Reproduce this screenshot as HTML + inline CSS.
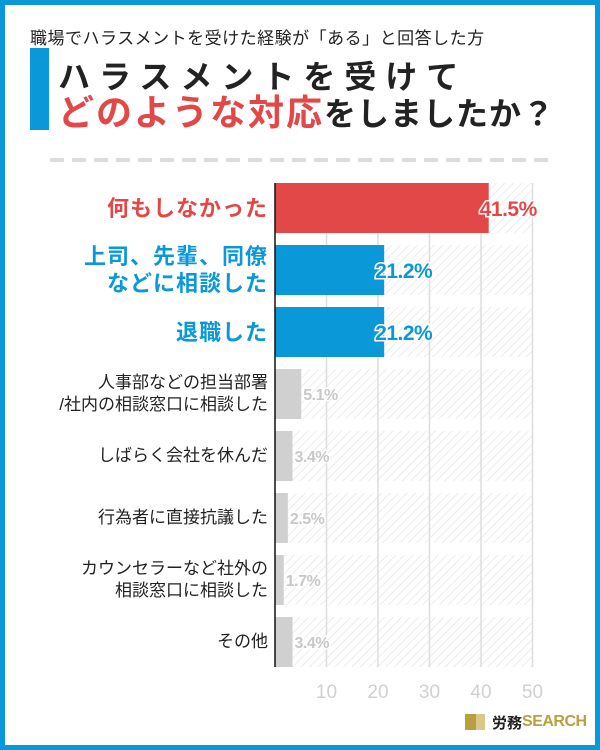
<!DOCTYPE html>
<html><head><meta charset="utf-8"><style>
body{margin:0;width:600px;height:750px;overflow:hidden;background:#fff;font-family:"Liberation Sans","Noto Sans CJK JP",sans-serif}
#frame{position:absolute;left:0;top:0;width:590px;height:740px;border:5px solid #0a98d8;background:#fff}
.lbl{position:absolute;right:332px;text-align:right;font-size:17px;line-height:22px;color:#222;white-space:nowrap}
.lbl.big{font-size:22px;font-weight:bold;line-height:27px;letter-spacing:1px}
</style></head><body>
<div id="frame"></div>
<div style="position:absolute;left:30px;top:24px;font-size:17px;color:#222;letter-spacing:0.5px;white-space:nowrap">職場でハラスメントを受けた経験が「ある」と回答した方</div>
<div style="position:absolute;left:30px;top:48px;width:19px;height:82px;background:#0a98d8"></div>
<div style="position:absolute;left:58px;top:52px;font-size:32px;font-weight:bold;color:#222;letter-spacing:9px;white-space:nowrap">ハラスメントを受けて</div>
<div style="position:absolute;left:58px;top:84px;font-size:36px;font-weight:bold;color:#e34848;letter-spacing:2px;white-space:nowrap">どのような対応<span style="color:#222;font-size:32px;letter-spacing:1px">をしましたか？</span></div>
<div style="position:absolute;left:50px;top:158px;width:502px;height:4px;background:repeating-linear-gradient(90deg,#ddd 0 14px,transparent 14px 22px)"></div>
<svg id="chart" width="600" height="750" style="position:absolute;left:0;top:0">
<defs><pattern id="hatch" width="6" height="6" patternUnits="userSpaceOnUse" patternTransform="rotate(45)"><rect width="6" height="6" fill="#fff"/><line x1="0" y1="0" x2="0" y2="6" stroke="#ececec" stroke-width="2"/></pattern></defs>
<g id="g"></g></svg>
<div id="labels"></div>
<div style="position:absolute;left:465px;top:712px;height:20px;display:flex;align-items:center;white-space:nowrap">
<div style="width:11px;height:16px;background:#b8a040"></div><div style="width:9px;height:16px;background:#d8c88a;margin-right:7px"></div>
<span style="font-size:15px;font-weight:bold;color:#222">労務</span><span style="font-size:16px;color:#b8a040;font-weight:bold;letter-spacing:-0.5px">SEARCH</span></div>
<script>
const categories=["何もしなかった","上司、先輩、同僚<br>などに相談した","退職した","人事部などの担当部署<br>/社内の相談窓口に相談した","しばらく会社を休んだ","行為者に直接抗議した","カウンセラーなど社外の<br>相談窓口に相談した","その他"];
const values=[41.5,21.2,21.2,5.1,3.4,2.5,1.7,3.4];
const ticks=[10,20,30,40,50];
const colors=["#e34848","#0a98d8","#0a98d8","#d0d0d0","#d0d0d0","#d0d0d0","#d0d0d0","#d0d0d0"];
const labelColors=["#e34848","#0a98d8","#0a98d8","#222","#222","#222","#222","#222"];
const x0=275,xs=5.15,top0=183,pitch=62,bh=50;
const X=v=>x0+v*xs, Y=i=>top0+i*pitch;
const g=document.getElementById('g'),ns="http://www.w3.org/2000/svg";
function mk(t,a){const e=document.createElementNS(ns,t);for(const k in a)e.setAttribute(k,a[k]);g.appendChild(e);return e;}
values.forEach((v,i)=>{const bg=mk('rect',{x:x0,y:Y(i),width:X(50)-x0,height:bh,fill:'url(#hatch)'});

});
ticks.forEach(t=>{const l=mk('line',{x1:X(t),x2:X(t),y1:Y(0),y2:Y(values.length-1)+bh,stroke:'#ddd','stroke-width':1.5});


const tx=mk('text',{x:X(t),y:698,'text-anchor':'middle','font-size':19,fill:'#d0d0d0'});tx.textContent=t;

});
values.forEach((v,i)=>{const r=mk('rect',{x:x0,y:Y(i),width:X(v)-x0,height:bh,fill:colors[i]});


const big=i<3;
const t=mk('text',{x:big?X(v)-9:X(v)+2,y:Y(i)+bh/2+(big?8:6),'font-size':big?21:16,'font-weight':'bold',fill:big?colors[i]:'#c8c8c8',stroke:'#fff','stroke-width':3,'paint-order':'stroke','letter-spacing':'-0.5'});
t.textContent=v.toFixed(1)+'%';


const lab=document.createElement('div');lab.className='lbl'+(big?' big':'');lab.style.color=labelColors[i];lab.innerHTML=categories[i];


document.getElementById('labels').appendChild(lab);
const lines=categories[i].split('<br>').length, lh=big?27:22;
lab.style.top=(Y(i)+bh/2-lines*lh/2)+'px';});
const ax=mk('line',{x1:x0,x2:x0,y1:Y(0),y2:Y(values.length-1)+bh,stroke:'#111','stroke-width':1.5});


</script>
</body></html>
